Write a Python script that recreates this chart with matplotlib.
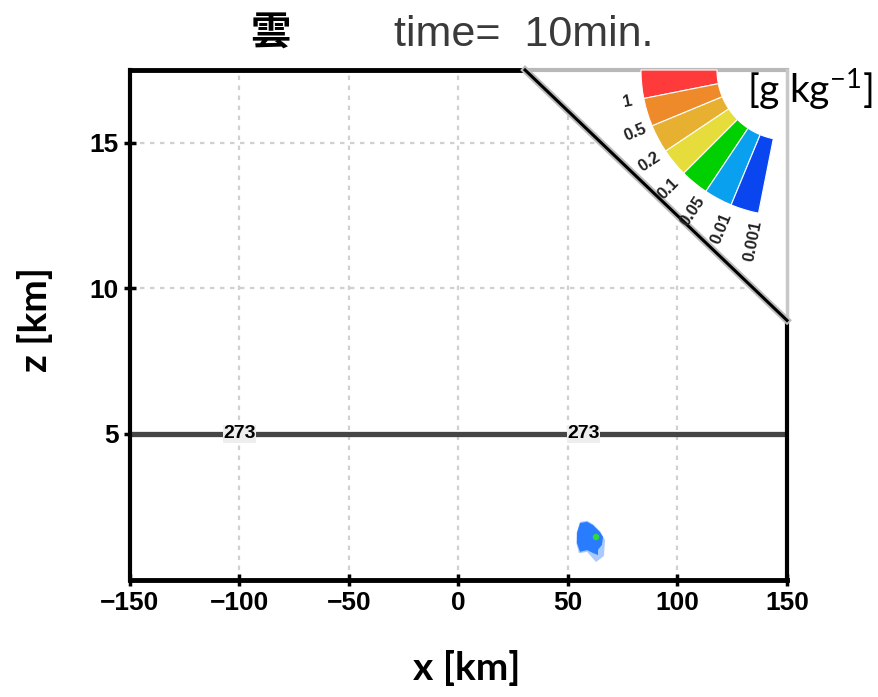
import numpy as np
import matplotlib
matplotlib.use("Agg")
import matplotlib.pyplot as plt
from matplotlib.patches import Polygon, Wedge

plt.rcParams['font.family'] = ['Liberation Sans', 'DejaVu Sans']
plt.rcParams['mathtext.fontset'] = 'custom'
plt.rcParams['mathtext.rm'] = 'Lato'

# axis ranges / ticks
x_ticks = [-150, -100, -50, 0, 50, 100, 150]
z_ticks = [5, 10, 15]
x_lim = (-150, 150)
z_lim = (0, 17.5)

# 273 K isotherm (z = 5 km) and its labels
isotherm_z = 5.0
isotherm_label_x = [-100, 57]
isotherm_label = "273"

# diagonal boundary of the plotted domain (x km, z km)
diag_x = [30.4, 150.0]
diag_z = [17.5, 8.9]

# cloud water blob (x km, z km)
blob_halo_x = [55.5, 58.7, 61.4, 64.6, 66.9, 66.4, 62.8, 58.7, 55.0, 53.8, 54.0]
blob_halo_z = [1.98, 2.02, 1.90, 1.66, 1.36, 0.81, 0.60, 0.95, 0.90, 1.25, 1.62]
blob_x = [55.5, 58.7, 61.4, 64.6, 66.0, 65.5, 63.7, 63.7, 61.4, 58.7, 55.5, 54.1, 54.1]
blob_z = [1.94, 1.98, 1.87, 1.63, 1.46, 1.19, 1.02, 0.84, 0.91, 1.01, 0.95, 1.25, 1.60]
blob_core_x = [62.8]
blob_core_z = [1.46]

# colour scale [g/kg]
levels = ["1", "0.5", "0.2", "0.1", "0.05", "0.01", "0.001"]
level_colors = ["#ff3a3a", "#ef8a2a", "#e8b030", "#e6dc3c", "#00d000", "#0aa0f0", "#0a46f0"]

W, H = 879, 697
fig = plt.figure(figsize=(W / 100, H / 100), dpi=100)
ax = fig.add_axes([130 / W, 1 - 579.5 / H, 657 / W, 509.5 / H])

ax.set_xlim(*x_lim)
ax.set_ylim(*z_lim)
ax.set_xticks(x_ticks)
ax.set_yticks(z_ticks)
ax.set_xticklabels([str(v).replace('-', '\u2212') for v in x_ticks])
ax.tick_params(axis='both', direction='inout', length=8, width=2.5, labelsize=19, pad=4)
for lab in ax.get_xticklabels() + ax.get_yticklabels():
    lab.set_fontweight('bold')

ax.grid(True, color='#d0d0d0', linestyle=(0, (2, 2.5)), linewidth=1.6, zorder=0)
ax.set_axisbelow(True)

for s in ['top', 'right']:
    ax.spines[s].set_visible(False)
ax.spines['left'].set_linewidth(3)
ax.spines['bottom'].set_linewidth(3.5)

# white region above diagonal (outside of domain)
ax.add_patch(Polygon([[diag_x[0], diag_z[0]], [x_lim[1], z_lim[1]], [diag_x[1], diag_z[1]]],
                     closed=True, facecolor='white', edgecolor='none', zorder=1.5))
# frame: top and right
ax.plot([x_lim[0], diag_x[0]], [z_lim[1], z_lim[1]], color='black', lw=3.5, clip_on=False, zorder=3)
ax.plot([diag_x[0], x_lim[1]], [z_lim[1], z_lim[1]], color='#b8b8b8', lw=3, clip_on=False, zorder=3)
ax.plot([x_lim[1], x_lim[1]], [diag_z[1], z_lim[1]], color='#c8c8c8', lw=2.5, clip_on=False, zorder=3)
ax.plot([x_lim[1], x_lim[1]], [0, diag_z[1]], color='black', lw=3, clip_on=False, zorder=3)
ax.plot(diag_x, diag_z, color='#bbbbbb', lw=5, clip_on=False, zorder=3)
ax.plot(diag_x, diag_z, color='black', lw=2.2, clip_on=False, zorder=3.1)

# 273 K line
ax.axhline(isotherm_z, color='#454545', lw=3.8, zorder=2)
for xl in isotherm_label_x:
    ax.text(xl, isotherm_z, isotherm_label, fontsize=14, fontweight='bold', ha='center', va='center',
            zorder=4, bbox=dict(facecolor='#eeeeee', edgecolor='none', pad=0.3))

# cloud
ax.add_patch(Polygon(np.column_stack([blob_halo_x, blob_halo_z]), closed=True,
                     facecolor='#a9c9ff', edgecolor='none', zorder=2.5))
ax.add_patch(Polygon(np.column_stack([blob_x, blob_z]), closed=True,
                     facecolor='#2a7cff', edgecolor='none', zorder=2.6))
ax.scatter(blob_core_x, blob_core_z, s=22, color='#30d838', edgecolors='none', zorder=2.7)

# colour fan in the upper right corner (pixel coordinates)
ov = fig.add_axes([0, 0, 1, 1], facecolor='none')
ov.set_xlim(0, W)
ov.set_ylim(H, 0)
ov.axis('off')
cx, cy = 787, 70
r_in, r_out = 70, 146
step = 11.25
for i, c in enumerate(level_colors):
    ov.add_patch(Wedge((cx, cy), r_out, 180 - step * (i + 1), 180 - step * i, width=r_out - r_in,
                       facecolor=c, edgecolor='white', lw=0.8))
for k, lab in enumerate(levels, start=1):
    th = np.deg2rad(180 - step * k)
    r = 160 + 2 * k
    ov.text(cx + r * np.cos(th), cy + r * np.sin(th), lab, rotation=step * k,
            rotation_mode='anchor', ha='center', va='center', fontsize=12, fontweight='bold',
            color='#222222')

fig.text(810 / W, 1 - 90 / H, r'[g kg$^{\mathregular{-1}}$]', family='Lato', fontsize=28,
         ha='center', va='center')

# titles
fig.text(270 / W, 1 - 33 / H, '雲', family=['Noto Sans CJK JP', 'DejaVu Sans'], fontweight='bold',
         fontsize=29, ha='center', va='center')
fig.text(524 / W, 1 - 35 / H, 'time=  10min.', fontsize=31, color='#3a3a3a', ha='center', va='center')

# axis labels
fig.text(467 / W, 1 - 668 / H, 'x [km]', family='Lato', fontweight='bold', fontsize=28,
         ha='center', va='center')
fig.text(35 / W, 1 - 320 / H, 'z [km]', family='Lato', fontweight='bold', fontsize=28,
         ha='center', va='center', rotation=90)

fig.savefig('out.png', dpi=100)
